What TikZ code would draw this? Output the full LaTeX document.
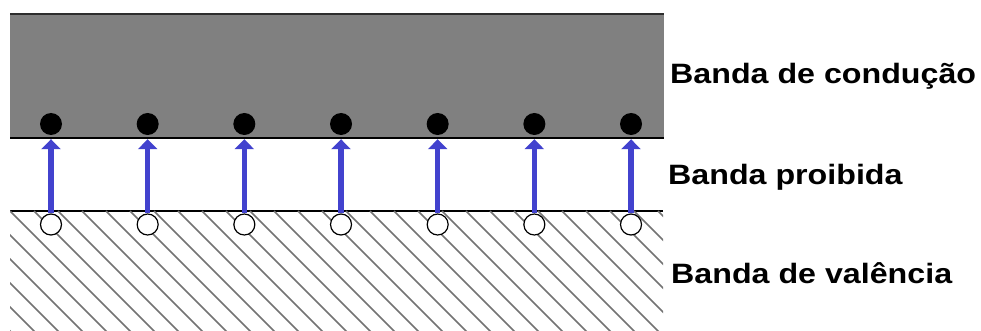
\documentclass[tikz,border=0pt]{standalone}
\usepackage{fontspec}
\setmainfont{Liberation Sans}
\usetikzlibrary{arrows.meta}
\definecolor{bandgray}{RGB}{128,128,128}
\definecolor{edgegray}{RGB}{45,45,45}
\definecolor{hatchgray}{RGB}{115,115,115}
\definecolor{jumpblue}{RGB}{66,66,206}
\tikzset{
  electron/.style={circle, fill=black, minimum size=22pt, inner sep=0pt},
  hole/.style={circle, draw=black, line width=1.2pt, fill=white, minimum size=21pt, inner sep=0pt},
  jump/.style={draw=jumpblue, line width=5.5pt, -{Triangle[length=10pt,width=19pt]}, shorten >=4pt},
  bandlabel/.style={anchor=base west, inner sep=0pt, font=\fontsize{28pt}{32pt}\selectfont\bfseries},
}
\newcommand{\widetext}[1]{\scalebox{1.15}[1]{#1}}
\begin{document}
\begin{tikzpicture}[x=1pt,y=-1pt]
  \useasboundingbox (0,0) rectangle (981,331);
  \fill[white] (0,0) rectangle (981,331);

  % conduction band
  \fill[bandgray] (10,13) rectangle (664,138);
  \draw[edgegray, line width=2pt] (10,14) -- (664,14);
  \draw[black, line width=2pt] (10,138) -- (664,138);

  % valence band: edge line and hatching
  \draw[black, line width=1.5pt] (10,211) -- (663,211);
  \begin{scope}
    \clip (10,210.5) rectangle (663,331);
    \foreach \k in {-6,...,28}{
      \draw[hatchgray, line width=1.6pt] ({10+24*\k},211) -- ({10+24*\k+130},341);
    }
  \end{scope}

  % electrons, holes and the jumps between them
  \foreach \i in {1,...,7}{
    \pgfmathsetmacro{\xx}{51+96.67*(\i-1)}
    \node[electron] (e\i) at (\xx,124) {};
    \node[hole] (h\i) at (\xx,224.5) {};
    \draw[jump] (h\i.north) -- (e\i.south);
  }

  % labels
  \node[bandlabel] (lc) at (670,84) {\widetext{Banda de condução}};
  \node[bandlabel] (lp) at (668,184) {\widetext{Banda proibida}};
  \node[bandlabel] (lv) at (671,283) {\widetext{Banda de valência}};
\end{tikzpicture}
\end{document}
